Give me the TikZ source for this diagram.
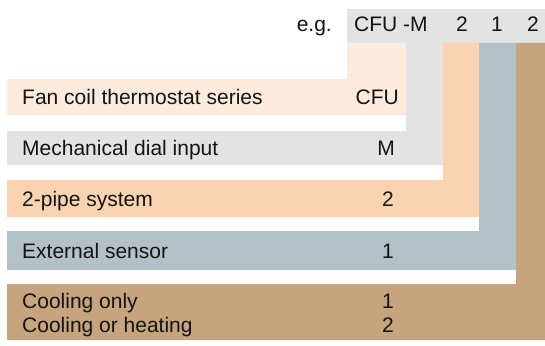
\documentclass[tikz,border=0pt]{standalone}
\usepackage{fontspec}
\setmainfont{Liberation Sans}
\definecolor{cfuc}{RGB}{253,235,222}
\definecolor{grayc}{RGB}{227,227,227}
\definecolor{peachc}{RGB}{250,211,176}
\definecolor{bluec}{RGB}{179,192,200}
\definecolor{tanc}{RGB}{198,164,125}
\definecolor{txtc}{RGB}{20,20,20}
\begin{document}
\begin{tikzpicture}[x=1pt,y=-1pt,
  txt/.style={inner sep=0pt, font=\fontsize{21}{24}\selectfont, text=txtc}]
\useasboundingbox (0,0) rectangle (545,345);
% header bar
\fill[grayc] (347,9) rectangle (545,43);
% CFU column + row
\fill[cfuc] (7,79) -- (347,79) -- (347,43) -- (406,43) -- (406,115) -- (7,115) -- cycle;
% M column + row
\fill[grayc] (7,131) -- (406,131) -- (406,43) -- (443,43) -- (443,165) -- (7,165) -- cycle;
% 2-pipe column + row
\fill[peachc] (7,180) -- (443,180) -- (443,43) -- (479,43) -- (479,217) -- (7,217) -- cycle;
% sensor column + row
\fill[bluec] (7,231) -- (479,231) -- (479,43) -- (516,43) -- (516,270) -- (7,270) -- cycle;
% cooling column + row
\fill[tanc] (7,284) -- (516,284) -- (516,43) -- (545,43) -- (545,340) -- (7,340) -- cycle;
% header text
\node[txt, anchor=base east] (eg) at (332,32) {e.g.};
\node[txt, anchor=base west] (hcfu) at (354,32) {CFU -M};
\node[txt, anchor=base] (hp) at (462,32) {2};
\node[txt, anchor=base] (hs) at (497,32) {1};
\node[txt, anchor=base] (hc) at (533,32) {2};
% row texts
\node[txt, anchor=base west] (l1) at (22,104.5) {Fan coil thermostat series};
\node[txt, anchor=base east] (v1) at (399,104.5) {CFU};
\node[txt, anchor=base west] (l2) at (22,155.5) {Mechanical dial input};
\node[txt, anchor=base east] (v2) at (395,155.5) {M};
\node[txt, anchor=base west] (l3) at (22,206) {2-pipe system};
\node[txt, anchor=base] (v3) at (388,206) {2};
\node[txt, anchor=base west] (l4) at (22,258) {External sensor};
\node[txt, anchor=base] (v4) at (388,258) {1};
\node[txt, anchor=base west] (l5a) at (22,308) {Cooling only};
\node[txt, anchor=base] (v5a) at (388,308) {1};
\node[txt, anchor=base west] (l5b) at (22,332) {Cooling or heating};
\node[txt, anchor=base] (v5b) at (388,332) {2};
\end{tikzpicture}
\end{document}
